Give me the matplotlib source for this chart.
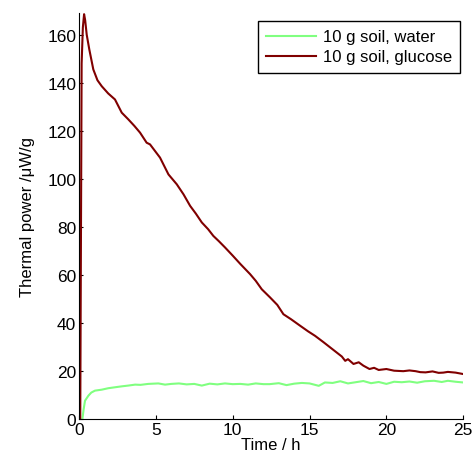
import matplotlib
matplotlib.use('Agg')
import matplotlib.pyplot as plt

plt.rcParams['font.family'] = ['Liberation Sans', 'DejaVu Sans']

# glucose run
t_glucose = [0.08, 0.17, 0.25, 0.33, 0.4, 0.5, 0.67, 0.93, 1.2, 1.48, 1.9, 2.34,
             2.78, 3.21, 3.6, 3.97, 4.4, 4.62, 5.27, 5.82, 6.36, 6.8, 7.23, 7.6,
             7.99, 8.4, 8.74, 9.1, 9.5, 10.0, 10.5, 11.13, 11.5, 11.89, 12.43,
             12.9, 13.3, 13.8, 14.39, 14.9, 15.36, 15.9, 16.34, 16.8, 17.1, 17.32,
             17.5, 17.86, 18.2, 18.5, 18.9, 19.2, 19.5, 20.0, 20.5, 21.1, 21.5,
             21.9, 22.2, 22.55, 23.0, 23.4, 23.7, 24.0, 24.5, 25.0]
p_glucose = [0, 148, 163, 168.5, 166, 160, 153.8, 145.5, 141, 138.5, 135.5, 133,
             127.5, 124.7, 122, 119.2, 115, 114.3, 108.8, 101.8, 97.7, 93.5, 88.7, 85.5,
             81.8, 79, 76.2, 74, 71.4, 68, 64.5, 60.3, 57.5, 54, 50.6,
             47.5, 43.6, 41.5, 38.8, 36.5, 34.6, 32, 29.8, 27.5, 26, 24.2,
             24.9, 22.9, 23.6, 22.2, 20.8, 21.3, 20.4, 20.8, 20.1, 19.9, 20.2,
             19.9, 19.5, 19.4, 19.8, 19.2, 19.3, 19.6, 19.3, 18.7]

# water run
t_water = [0.22, 0.3, 0.39, 0.61, 0.8, 1.04, 1.48, 1.9, 2.34, 2.8, 3.2, 3.65,
           4.0, 4.5, 5.16, 5.6, 6.0, 6.5, 7.0, 7.5, 7.99, 8.5, 9.0, 9.5, 10.0,
           10.5, 11.0, 11.5, 12.0, 12.4, 13.0, 13.5, 14.0, 14.5, 15.0, 15.6,
           16.0, 16.5, 17.0, 17.5, 18.0, 18.5, 19.0, 19.5, 20.0, 20.5, 21.0,
           21.5, 22.0, 22.5, 23.1, 23.6, 24.0, 24.5, 25.0]
p_water = [0, 4, 7.6, 9.7, 11, 11.8, 12.2, 12.8, 13.2, 13.6, 13.9, 14.3,
           14.2, 14.6, 14.8, 14.3, 14.6, 14.8, 14.4, 14.6, 13.9, 14.7, 14.4, 14.8, 14.5,
           14.6, 14.3, 14.8, 14.5, 14.5, 14.9, 14.1, 14.7, 15.0, 14.8, 13.8,
           15.2, 15.0, 15.7, 14.8, 15.3, 15.8, 14.9, 15.4, 14.6, 15.5, 15.3,
           15.6, 15.1, 15.7, 15.9, 15.4, 15.9, 15.5, 15.2]

xticks = [0, 5, 10, 15, 20, 25]
yticks = [0, 20, 40, 60, 80, 100, 120, 140, 160]

fig = plt.figure(figsize=(4.74, 4.6), dpi=100)
ax = fig.add_axes([0.1667, 0.087, 0.8106, 0.8826])

ax.plot(t_water, p_water, color='#80ff80', lw=1.5, label='10 g soil, water')
ax.plot(t_glucose, p_glucose, color='#800000', lw=1.5, label='10 g soil, glucose')

ax.set_xlim(0, 25)
ax.set_ylim(0, 169)
ax.set_xticks(xticks)
ax.set_yticks(yticks)
ax.tick_params(direction='in', length=3, labelsize=12.5, pad=2)
ax.spines['top'].set_visible(False)
ax.spines['right'].set_visible(False)

ax.set_xlabel('Time / h', fontsize=12, labelpad=0)
ax.set_ylabel('Thermal power /\u03bcW/g', fontsize=12, labelpad=9)

# legend box in the top right corner
leg = ax.legend(loc='upper right', bbox_to_anchor=(0.992, 0.98), borderaxespad=0,
                fontsize=12, fancybox=False, handlelength=3.0, handletextpad=0.4,
                borderpad=0.5, labelspacing=0.3)
leg.get_frame().set_edgecolor('black')
leg.get_frame().set_linewidth(1)
leg.get_frame().set_alpha(1)

fig.savefig('out.png', dpi=100)
